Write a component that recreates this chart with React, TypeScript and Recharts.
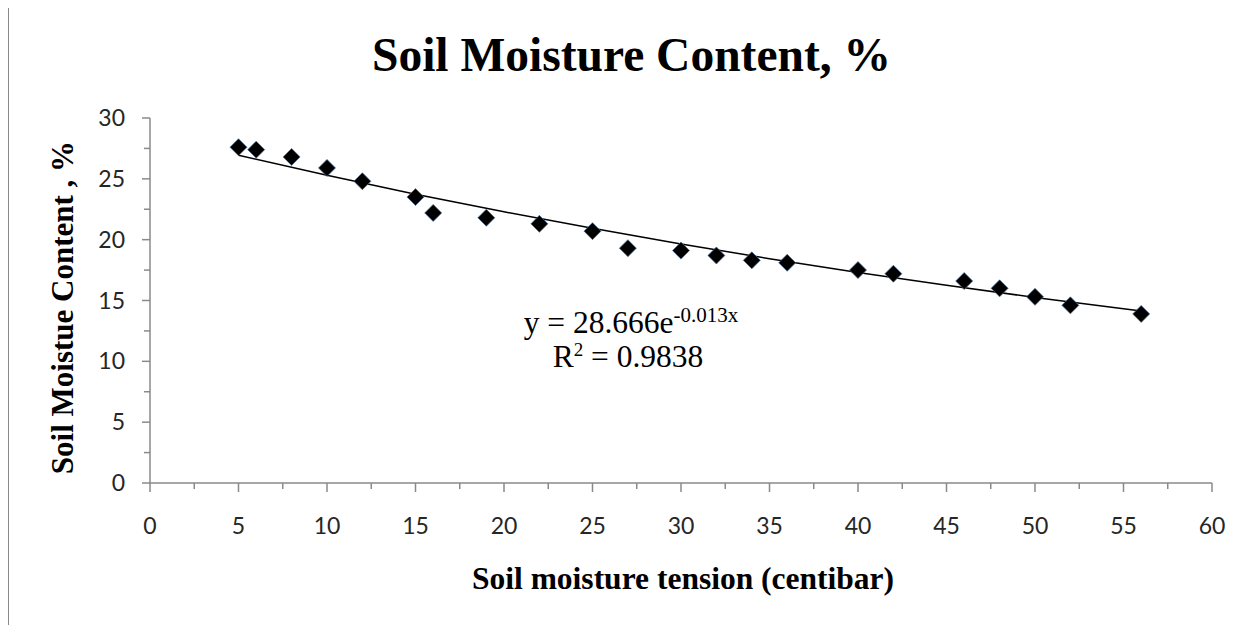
import { ComposedChart, Scatter, Line, XAxis, YAxis } from 'recharts';

// measured points (soil moisture tension, centibar -> moisture content, %)
const tension = [5, 6, 8, 10, 12, 15, 16, 19, 22, 25, 27, 30, 32, 34, 36, 40, 42, 46, 48, 50, 52, 56];
const moisture = [27.6, 27.4, 26.8, 25.9, 24.8, 23.5, 22.2, 21.8, 21.3, 20.7, 19.3, 19.1, 18.7, 18.3, 18.1, 17.5, 17.2, 16.6, 16.0, 15.3, 14.6, 13.9];

// exponential trendline
const trendX = [5, 10, 15, 20, 25, 30, 35, 40, 45, 50, 56];
const trendY = [26.94, 25.29, 23.74, 22.29, 20.93, 19.64, 18.44, 17.31, 16.25, 15.25, 14.14];

const xTicks = [0, 2.5, 5, 7.5, 10, 12.5, 15, 17.5, 20, 22.5, 25, 27.5, 30, 32.5, 35, 37.5, 40, 42.5, 45, 47.5, 50, 52.5, 55, 57.5, 60];
const yTicks = [0, 2.5, 5, 7.5, 10, 12.5, 15, 17.5, 20, 22.5, 25, 27.5, 30];

const points = tension.map((x, i) => ({ x, y: moisture[i] }));
const trend = trendX.map((x, i) => ({ x, y: trendY[i] }));

const AXIS = '#8a8a8a';
const SERIF = '"Liberation Serif", "Times New Roman", serif';
const SANS = 'Lato, "Open Sans", sans-serif';

const Diamond = (props: any) => {
  const { cx, cy } = props;
  const r = 8.5;
  return (
    <polygon
      points={`${cx},${cy - r} ${cx + r},${cy} ${cx},${cy + r} ${cx - r},${cy}`}
      fill="#000"
      stroke="#4a6f99"
      strokeWidth={0.7}
    />
  );
};

const XTick = (props: any) => {
  const { x, y, payload } = props;
  const major = payload.value % 5 === 0;
  return (
    <g>
      <line x1={x} x2={x} y1={y} y2={y + (major ? 9 : 6)} stroke={AXIS} strokeWidth={1.5} />
      {major && (
        <text x={x} y={y + 51} textAnchor="middle" fontFamily={SANS} fontSize={23} fill="#262626">
          {payload.value}
        </text>
      )}
    </g>
  );
};

const YTick = (props: any) => {
  const { x, y, payload } = props;
  const major = payload.value % 5 === 0;
  return (
    <g>
      <line x1={x - (major ? 8 : 6)} x2={x} y1={y} y2={y} stroke={AXIS} strokeWidth={1.5} />
      {major && (
        <text x={x - 25} y={y + 8} textAnchor="end" fontFamily={SANS} fontSize={23} fill="#262626">
          {payload.value}
        </text>
      )}
    </g>
  );
};

export default function App() {
  return (
    <div style={{ position: 'relative', width: 1246, height: 617, background: '#fff' }}>
      <div style={{ position: 'absolute', left: -1, top: -8, width: 2, height: 625, background: AXIS }} />
      <ComposedChart width={1246} height={617} margin={{ top: 110, right: 42, bottom: 0, left: 0 }}>
        <XAxis
          dataKey="x"
          type="number"
          domain={[0, 60]}
          ticks={xTicks}
          interval={0}
          height={142}
          tickSize={0}
          tickMargin={0}
          tickLine={false}
          tick={<XTick />}
          axisLine={{ stroke: AXIS, strokeWidth: 1.5 }}
          label={{
            content: (p: any) => {
              const vb = p.viewBox;
              return (
                <text x={vb.x + vb.width / 2 + 2} y={vb.y + 106} textAnchor="middle" fontFamily={SERIF} fontWeight="bold" fontSize={31.5} fill="#000">
                  Soil moisture tension (centibar)
                </text>
              );
            },
          }}
        />
        <YAxis
          type="number"
          domain={[0, 30]}
          ticks={yTicks}
          interval={0}
          width={142}
          tickSize={0}
          tickMargin={0}
          tickLine={false}
          tick={<YTick />}
          axisLine={{ stroke: AXIS, strokeWidth: 1.5 }}
          label={{
            content: (p: any) => {
              const vb = p.viewBox;
              const cy = vb.y + vb.height / 2 + 7;
              return (
                <text x={65} y={cy} transform={`rotate(-90 65 ${cy})`} textAnchor="middle" fontFamily={SERIF} fontWeight="bold" fontSize={31} fill="#000">
                  Soil Moistue Content , %
                </text>
              );
            },
          }}
        />
        <Line data={trend} dataKey="y" type="monotone" stroke="#000" strokeWidth={1.5} dot={false} isAnimationActive={false} />
        <Scatter data={points} dataKey="y" shape={<Diamond />} isAnimationActive={false} />
      </ComposedChart>
      <svg width={1246} height={617} style={{ position: 'absolute', left: 0, top: 0, pointerEvents: 'none' }}>
        <text x={623.5} y={63} textAnchor="middle" fontFamily={SERIF} fontWeight="bold" fontSize={47.5} fill="#000">
          Soil Moisture Content, %
        </text>
        <text x={623} y={325} textAnchor="middle" fontFamily={SERIF} fontSize={31.5} fill="#000">
          y = 28.666e<tspan fontSize={21} dy={-11}>-0.013x</tspan>
        </text>
        <text x={620} y={359} textAnchor="middle" fontFamily={SERIF} fontSize={31.5} fill="#000">
          R<tspan fontSize={19} dy={-11}>2</tspan>
          <tspan dy={11}> = 0.9838</tspan>
        </text>
      </svg>
    </div>
  );
}
